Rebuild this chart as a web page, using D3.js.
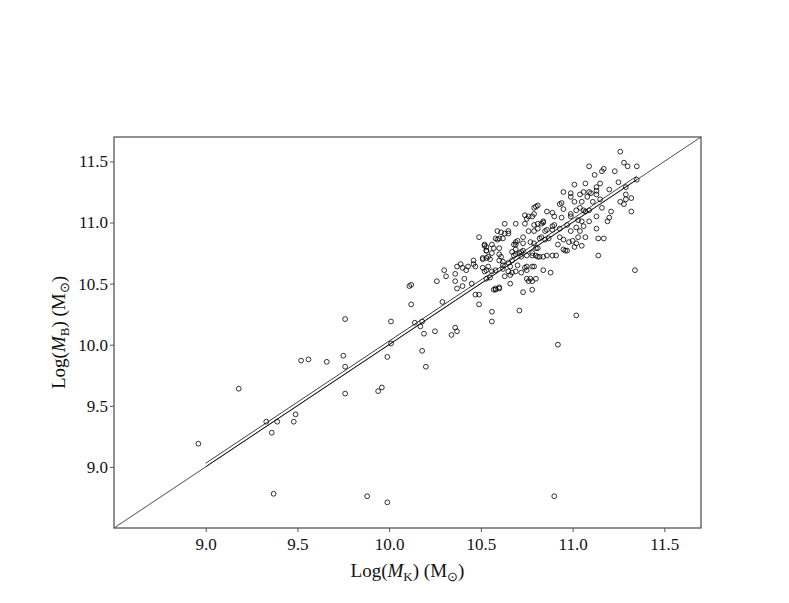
<!DOCTYPE html>
<html>
<head>
  <meta charset="utf-8">
  <script src="https://d3js.org/d3.v7.min.js"></script>
  <style>
    body { margin: 0; background: #fff; }
    text { font-family: "Liberation Serif", "Times New Roman", serif; fill: #111; }
  </style>
</head>
<body>
<script type="text/javascript">
  "use strict";

  // galaxies: [log M_K, log M_B]
  var galaxies = [
    [8.96,9.19],[9.18,9.64],[9.33,9.37],[9.36,9.28],[9.39,9.37],[9.48,9.37],[9.49,9.43],[9.37,8.78],[9.52,9.87],[9.56,9.88],
    [9.66,9.86],[9.75,9.91],[9.76,9.82],[9.76,10.21],[9.76,9.60],[9.94,9.62],[9.96,9.65],[9.99,9.90],[10.01,10.19],[10.01,10.01],
    [10.12,10.33],[10.14,10.18],[10.17,10.15],[10.18,10.19],[10.19,10.09],[10.18,9.95],[10.20,9.82],[10.25,10.11],[10.29,10.35],[10.26,10.52],
    [10.36,10.14],[10.37,10.11],[10.34,10.08],[10.30,10.61],[10.31,10.56],[10.36,10.58],[10.36,10.52],[10.37,10.46],[10.40,10.48],[10.37,10.64],
    [10.40,10.63],[10.42,10.61],[10.41,10.54],[10.45,10.50],[10.11,10.48],[10.12,10.49],[10.47,10.41],[10.49,10.41],[10.49,10.33],[10.56,10.27],
    [10.56,10.19],[10.57,10.45],[10.58,10.46],[10.60,10.46],[10.66,10.50],[10.71,10.28],[9.88,8.76],[9.99,8.71],[10.90,8.76],[11.14,10.73],
    [11.34,10.61],[11.02,10.24],[10.92,10.00],[10.73,10.43],[10.78,10.45],[10.80,10.54],[10.75,10.54],[10.76,10.52],[10.84,10.61],[10.88,10.59],
    [10.63,10.56],[10.60,10.47],[10.65,10.60],[10.67,10.59],[10.69,10.60],[10.74,10.63],[10.79,10.64],[10.80,10.73],[10.84,10.72],[10.89,10.73],
    [10.91,10.73],[10.96,10.77],[10.69,10.74],[10.72,10.76],[10.78,10.73],[10.81,10.72],[10.62,10.62],[10.62,10.65],[10.49,10.88],[10.46,10.69],
    [10.46,10.66],[10.47,10.64],[10.52,10.81],[10.53,10.77],[10.53,10.80],[10.51,10.70],[10.53,10.71],[10.54,10.72],[10.55,10.70],[10.52,10.60],
    [10.53,10.61],[10.55,10.55],[10.53,10.54],[10.56,10.60],[10.54,10.64],[10.58,10.61],[10.56,10.75],[10.57,10.79],[10.59,10.86],[10.60,10.87],
    [10.59,10.93],[10.63,10.91],[10.65,10.91],[10.63,10.99],[10.69,10.99],[10.60,10.79],[10.60,10.74],[10.60,10.69],[10.61,10.72],[10.58,10.45],
    [10.65,10.67],[10.66,10.57],[10.67,10.69],[10.68,10.82],[10.69,10.82],[10.69,10.78],[10.71,10.75],[10.72,10.72],[10.73,10.83],[10.73,10.77],
    [10.75,10.73],[10.75,10.64],[10.75,10.61],[10.78,10.64],[10.74,10.99],[10.75,11.03],[10.76,11.05],[10.78,11.05],[10.80,11.13],
    [10.81,11.14],[10.79,11.07],[10.83,10.99],[10.84,11.01],[10.86,11.09],[10.89,11.08],[10.90,11.05],[10.90,10.98],[10.93,11.15],[10.76,10.93],
    [10.79,10.93],[10.81,10.95],[10.85,10.93],[10.82,10.87],[10.85,10.86],[10.77,10.84],[10.79,10.83],[10.80,10.79],[10.81,10.79],[10.78,10.75],
    [10.82,10.72],[10.86,10.73],[10.69,10.84],[10.70,10.85],[10.73,10.88],[10.52,10.82],[10.56,10.82],[10.53,10.77],[10.51,10.71],[10.51,10.63],
    [10.43,10.64],[10.39,10.66],[10.58,10.87],[11.26,11.58],[11.28,11.49],[11.30,11.46],[11.35,11.46],[11.35,11.35],[11.23,11.42],[11.25,11.33],
    [11.09,11.46],[11.12,11.39],[11.16,11.42],[11.17,11.44],[11.20,11.27],[11.15,11.32],[11.13,11.29],[11.13,11.26],[11.13,11.23],[11.10,11.24],
    [11.07,11.32],[11.06,11.25],[11.09,11.25],[11.08,11.21],[11.01,11.31],[10.95,11.25],[10.99,11.24],[10.99,11.21],[11.01,11.17],[10.94,11.16],
    [11.04,11.23],[11.05,11.17],[11.11,11.17],[11.15,11.19],[11.16,11.12],[11.21,11.09],[11.20,11.04],[11.19,11.01],[11.26,11.17],[11.28,11.15],
    [11.29,11.19],[11.32,11.20],[11.29,11.23],[11.29,11.29],[11.32,11.09],[11.06,11.10],[11.07,11.09],[11.09,11.10],[11.02,11.10],[11.04,11.12],
    [10.99,11.07],[11.13,11.05],[11.13,10.95],[11.14,10.87],[11.17,10.87],[10.84,11.00],[10.86,10.94],[10.89,10.97],[10.89,10.94],[10.93,10.95],
    [10.97,10.98],[10.99,11.05],[11.03,11.02],[11.05,11.01],[11.06,10.97],[11.09,11.01],[11.02,10.96],[11.04,10.93],[11.07,10.88],[11.03,10.88],
    [10.99,10.93],[11.00,10.85],[11.02,10.83],[11.05,10.81],[11.01,10.80],[10.98,10.84],[10.95,10.86],[10.92,10.82],[10.95,10.78],[10.97,10.77],
    [10.93,10.88],[10.87,10.87],[10.83,10.88],[10.78,10.52],[10.95,11.11],[10.94,11.04],[10.65,10.93],[10.61,10.92],[10.62,10.87],
    [10.62,10.68],[10.66,10.64],[10.68,10.73],[10.67,10.76],[10.77,10.54],[10.70,10.65],[10.72,10.59],[10.74,11.06],[10.79,11.12],[10.79,10.98],
    [10.81,10.99]
  ];

  var xTicks = [9.0, 9.5, 10.0, 10.5, 11.0, 11.5];
  var yTicks = [9.0, 9.5, 10.0, 10.5, 11.0, 11.5];
  var axisRange = [8.5, 11.7];

  // the two fitted lines (drawn as a thin double line)
  var fitRange = [9.0, 11.35];
  var fitIntercepts = [0.03, 0.002];
  var fitSlope = 1.0;

  var margin = {top: 137, right: 88, bottom: 75, left: 114},
      width = 789 - margin.left - margin.right,
      height = 603 - margin.top - margin.bottom;

  var svg = d3.select("body")
    .append("svg")
    .attr("width", width + margin.left + margin.right)
    .attr("height", height + margin.top + margin.bottom)
    .append("g")
    .attr("transform", "translate(" + margin.left + "," + margin.top + ")");

  var x = d3.scaleLinear().domain(axisRange).range([0, width]);
  var y = d3.scaleLinear().domain(axisRange).range([height, 0]);

  // axes
  var xAxis = svg.append("g")
    .attr("transform", "translate(0," + height + ")")
    .call(d3.axisBottom(x).tickValues(xTicks).tickFormat(d3.format(".1f"))
      .tickSize(4).tickSizeOuter(0).tickPadding(6));

  var yAxis = svg.append("g")
    .call(d3.axisLeft(y).tickValues(yTicks).tickFormat(d3.format(".1f"))
      .tickSize(4).tickSizeOuter(0).tickPadding(2));

  [xAxis, yAxis].forEach(function(a) {
    a.select(".domain").remove();
    a.selectAll("line").attr("stroke", "#555");
    a.selectAll("text")
      .style("font-family", "'Liberation Serif', 'Times New Roman', serif")
      .style("font-size", "17px")
      .attr("fill", "#222");
  });

  // y = x diagonal
  svg.append("line")
    .attr("x1", x(axisRange[0])).attr("y1", y(axisRange[0]))
    .attr("x2", x(axisRange[1])).attr("y2", y(axisRange[1]))
    .attr("stroke", "#222")
    .attr("stroke-width", 0.8);

  // fitted lines
  fitIntercepts.forEach(function(b) {
    svg.append("line")
      .attr("x1", x(fitRange[0])).attr("y1", y(b + fitSlope * fitRange[0]))
      .attr("x2", x(fitRange[1])).attr("y2", y(b + fitSlope * fitRange[1]))
      .attr("stroke", "#111")
      .attr("stroke-width", 0.8);
  });

  // points
  svg.selectAll("circle.pt")
    .data(galaxies)
    .enter()
    .append("circle")
    .attr("class", "pt")
    .attr("cx", function(d) { return x(d[0]); })
    .attr("cy", function(d) { return y(d[1]); })
    .attr("r", 2.4)
    .attr("fill", "none")
    .attr("stroke", "#000")
    .attr("stroke-width", 0.8);

  // frame
  svg.append("rect")
    .attr("width", width)
    .attr("height", height)
    .attr("fill", "none")
    .attr("stroke", "#555")
    .attr("stroke-width", 1.3);

  // axis titles
  function title(sel, sub) {
    sel.style("font-size", "19px").attr("fill", "#000");
    sel.append("tspan").text("Log(");
    sel.append("tspan").style("font-style", "italic").text("M");
    sel.append("tspan").attr("dy", 4).style("font-size", "13px").text(sub);
    sel.append("tspan").attr("dy", -4).text(") (M");
    sel.append("tspan").attr("dy", 4).style("font-size", "13px").text("\u2299");
    sel.append("tspan").attr("dy", -4).text(")");
  }

  svg.append("text")
    .attr("x", width / 2)
    .attr("y", height + 49)
    .attr("text-anchor", "middle")
    .call(title, "K");

  svg.append("text")
    .attr("transform", "translate(-49," + (height / 2) + ") rotate(-90)")
    .attr("text-anchor", "middle")
    .call(title, "B");
</script>
</body>
</html>
